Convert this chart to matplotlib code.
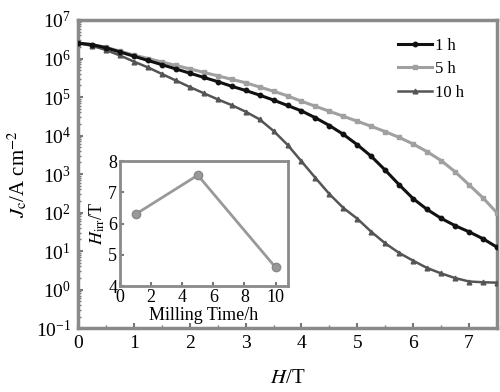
import matplotlib
matplotlib.use("Agg")
import matplotlib.pyplot as plt
from matplotlib.ticker import LogLocator, MultipleLocator, NullFormatter
import numpy as np

plt.rcParams['font.family'] = ['Liberation Serif', 'DejaVu Serif']
plt.rcParams['mathtext.fontset'] = 'stix'

# Main data: field H (T) and log10(Jc)
H = [0, 0.25, 0.5, 0.75, 1.0, 1.25, 1.5, 1.75, 2.0, 2.25, 2.5, 2.75, 3.0, 3.25, 3.5,
     3.75, 4.0, 4.25, 4.5, 4.75, 5.0, 5.25, 5.5, 5.75, 6.0, 6.25, 6.5, 6.75, 7.0, 7.25, 7.5]
log_jc_1h = [6.40, 6.36, 6.28, 6.17, 6.06, 5.95, 5.84, 5.73, 5.62, 5.51, 5.40, 5.28, 5.17, 5.05, 4.92,
             4.78, 4.64, 4.46, 4.26, 4.03, 3.76, 3.46, 3.10, 2.72, 2.36, 2.08, 1.85, 1.66, 1.50, 1.32, 1.10]
log_jc_5h = [6.40, 6.36, 6.29, 6.19, 6.09, 6.00, 5.91, 5.82, 5.73, 5.64, 5.55, 5.46, 5.37, 5.26, 5.15,
             5.03, 4.89, 4.76, 4.63, 4.50, 4.37, 4.24, 4.10, 3.95, 3.78, 3.58, 3.35, 3.06, 2.72, 2.38, 1.99]
log_jc_10h = [6.40, 6.33, 6.22, 6.08, 5.92, 5.77, 5.60, 5.43, 5.26, 5.10, 4.94, 4.79, 4.62, 4.42, 4.12,
              3.76, 3.33, 2.90, 2.48, 2.12, 1.84, 1.50, 1.20, 0.95, 0.75, 0.56, 0.42, 0.30, 0.21, 0.19, 0.18]
labels = ["1 h", "5 h", "10 h"]

# Inset data
mill_time = [1, 5, 10]
h_irr = [6.3, 7.55, 4.6]

jc_1h = np.power(10.0, log_jc_1h)
jc_5h = np.power(10.0, log_jc_5h)
jc_10h = np.power(10.0, log_jc_10h)

fig = plt.figure(figsize=(5.0, 3.92), dpi=100)
ax = fig.add_axes([0.156, 0.163, 0.838, 0.786])

spine_c = '#8a8a8a'
l5, = ax.plot(H, jc_5h, color='#a0a0a0', lw=2.2, marker='s', ms=3.2, mec='#a0a0a0', label=labels[1], zorder=3)
l1, = ax.plot(H, jc_1h, color='#111111', lw=2.2, marker='o', ms=3.2, label=labels[0], zorder=4)
l10, = ax.plot(H, jc_10h, color='#555555', lw=1.8, marker='^', ms=3.4, label=labels[2], zorder=3)

ax.set_yscale('log')
ax.set_xlim(0, 7.5)
ax.set_ylim(1e-1, 1e7)
ax.xaxis.set_major_locator(MultipleLocator(1))
ax.xaxis.set_minor_locator(MultipleLocator(0.5))
ax.yaxis.set_major_locator(LogLocator(base=10, numticks=20))
ax.yaxis.set_minor_locator(LogLocator(base=10, subs=np.arange(2, 10), numticks=20))
ax.yaxis.set_minor_formatter(NullFormatter())
for s in ax.spines.values():
    s.set_color(spine_c)
    s.set_linewidth(2.5)
ax.tick_params(which='both', direction='in', color='#777777')
ax.tick_params(which='major', length=3.5, width=1.5, labelsize=14, pad=5)
ax.tick_params(which='minor', length=2, width=1)
ax.set_xlabel(r"$\mathit{H}$/T", fontsize=15, labelpad=12)
ax.set_ylabel(r"$\mathit{J}_{\mathrm{c}}$/A cm$^{-2}$", fontsize=15, labelpad=4)

leg = ax.legend([l1, l5, l10], labels, loc='upper right', bbox_to_anchor=(0.945, 0.975),
                frameon=False, fontsize=12, handlelength=2.0, handletextpad=0.2,
                labelspacing=0.45, borderaxespad=0.2)

# Inset
ins = fig.add_axes([0.24, 0.270, 0.336, 0.319])
ins.plot(mill_time, h_irr, color='#999999', lw=2.0, marker='o', ms=6, mfc='#999999', mec='#888888')
ins.set_xlim(0, 10.8)
ins.set_ylim(4, 8)
ins.set_xticks([0, 2, 4, 6, 8, 10])
ins.set_yticks([4, 5, 6, 7, 8])
for s in ins.spines.values():
    s.set_color(spine_c)
    s.set_linewidth(2.0)
ins.tick_params(which='both', direction='in', color='#777777', length=3, width=1.5,
                labelsize=13, pad=2)
ins.set_xlabel("Milling Time/h", fontsize=13, labelpad=1)
ins.set_ylabel(r"$\mathit{H}_{\mathrm{irr}}$/T", fontsize=13, labelpad=1)

fig.savefig("out.png", dpi=100)
